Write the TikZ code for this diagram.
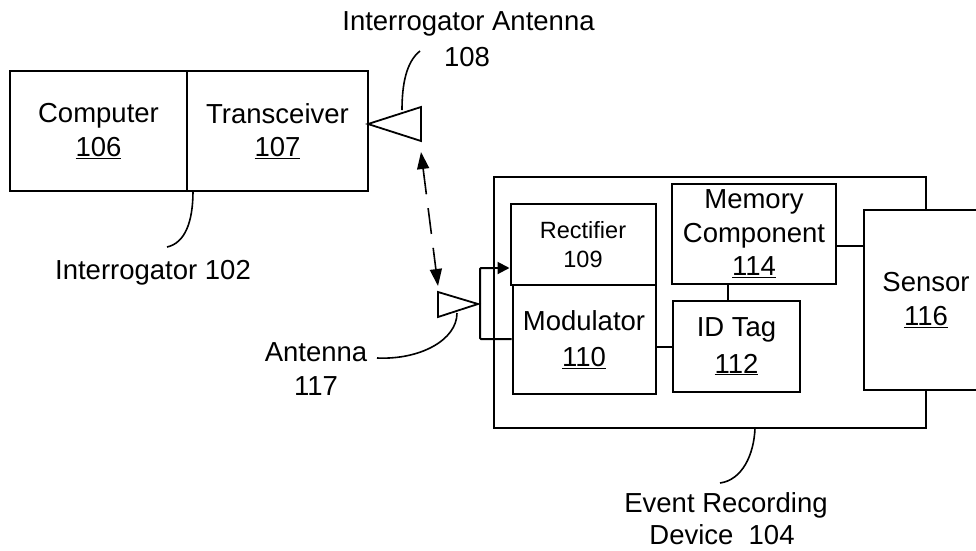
\documentclass[tikz,border=0pt]{standalone}
\usepackage{fontspec}
\setmainfont{Liberation Sans}
\usetikzlibrary{arrows.meta,calc}
\tikzset{
  every node/.style={font=\fontsize{27.5}{33.5}\selectfont, inner sep=0pt, align=center},
  boxnode/.style={draw, line width=2pt, fill=white, anchor=center},
  wire/.style={line width=2pt},
  lead/.style={line width=1.6pt},
  ant/.style={line width=1.8pt, line join=miter},
  link/.style={line width=2pt, -{Triangle[length=12pt,width=12pt]}},
  radio/.style={line width=1.6pt, dash pattern=on 26pt off 14pt, {Triangle[length=17pt,width=12pt]}-{Triangle[length=17pt,width=12pt]}}
}
\begin{document}
\begin{tikzpicture}[x=1pt,y=-1pt]
\useasboundingbox (0,0) rectangle (976,550);
\clip (0,0) rectangle (976,550);
% interrogator
\node[boxnode, minimum width=177pt, minimum height=120pt] (comp) at (98.5,131) {Computer\\\underline{106}};
\node[boxnode, minimum width=181pt, minimum height=120pt] (trans) at (277.5,131) {Transceiver\\\underline{107}};
\node (ilabel) at (153,273) {Interrogator 102};
\coordinate (ilead) at (193,191);
\coordinate (ileadend) at (167,247);
\draw[lead] (ilead) .. controls (193,222) and (185,243) .. (ileadend);
% interrogator antenna
\coordinate (a1) at (368,124);
\coordinate (a2) at (421,107);
\coordinate (a3) at (421,141);
\draw[ant] (a1) -- (a2) -- (a3) -- cycle;
\node (alabel) at (468.5,24) {Interrogator Antenna};
\node (anum) at (467,57) {108};
\coordinate (alead) at (402,110);
\coordinate (aleadend) at (420,51);
\draw[lead] (alead) .. controls (402,85) and (406,62) .. (aleadend);
% device
\node[boxnode, minimum width=432pt, minimum height=251pt] (dev) at (710,302.5) {};
\node[boxnode, minimum width=145pt, minimum height=81pt, font=\fontsize{23.5}{29}\selectfont] (rect) at (583,244.5) {Rectifier\\109};
\node[boxnode, minimum width=143pt, minimum height=109pt] (mod) at (584,339.5) {Modulator\\[3pt]\underline{110}};
\node[boxnode, minimum width=164pt, minimum height=100pt] (mem) at (754,234) {Memory\\Component\\\underline{114}};
\node[boxnode, minimum width=127pt, minimum height=91pt] (idt) at (736.5,346.5) {ID Tag\\[3pt]\underline{112}};
\node[boxnode, minimum width=124pt, minimum height=180pt] (sens) at (926,300) {Sensor\\\underline{116}};
\draw[wire] (mod.east |- idt.west) -- (idt.west);
\draw[wire] (mem.south -| 728,0) -- (idt.north -| 728,0);
\draw[wire] (mem.east |- 0,246) -- (sens.west |- 0,246);
% device antenna
\coordinate (b1) at (438,292);
\coordinate (b2) at (438,317);
\coordinate (b3) at (478,304);
\draw[ant] (b1) -- (b3) -- (b2) -- cycle;
\coordinate (bt) at (480,268);
\coordinate (bb) at (480,339);
\draw[wire, rounded corners=1pt] (mod.west |- bb) -- (bb) -- (bt) -- (495,268);
\draw[link] (490,268) -- (rect.west |- bt);
\coordinate (rtop) at (421,152);
\coordinate (rbot) at (438,286);
\draw[radio] (rtop) -- (rbot);
\node (blabel) at (316,352) {Antenna};
\node (bnum) at (316,386) {117};
\coordinate (blead) at (457,313);
\coordinate (bleadend) at (377,358);
\draw[lead] (blead) .. controls (457,340) and (420,360) .. (bleadend);
\node (evlabel) at (726,505) {Event Recording};
\node (evnum) at (722,535) {Device\ \ 104};
\coordinate (elead) at (755,428);
\coordinate (eleadend) at (720,483);
\draw[lead] (elead) .. controls (754,455) and (742,480) .. (eleadend);
\end{tikzpicture}
\end{document}
